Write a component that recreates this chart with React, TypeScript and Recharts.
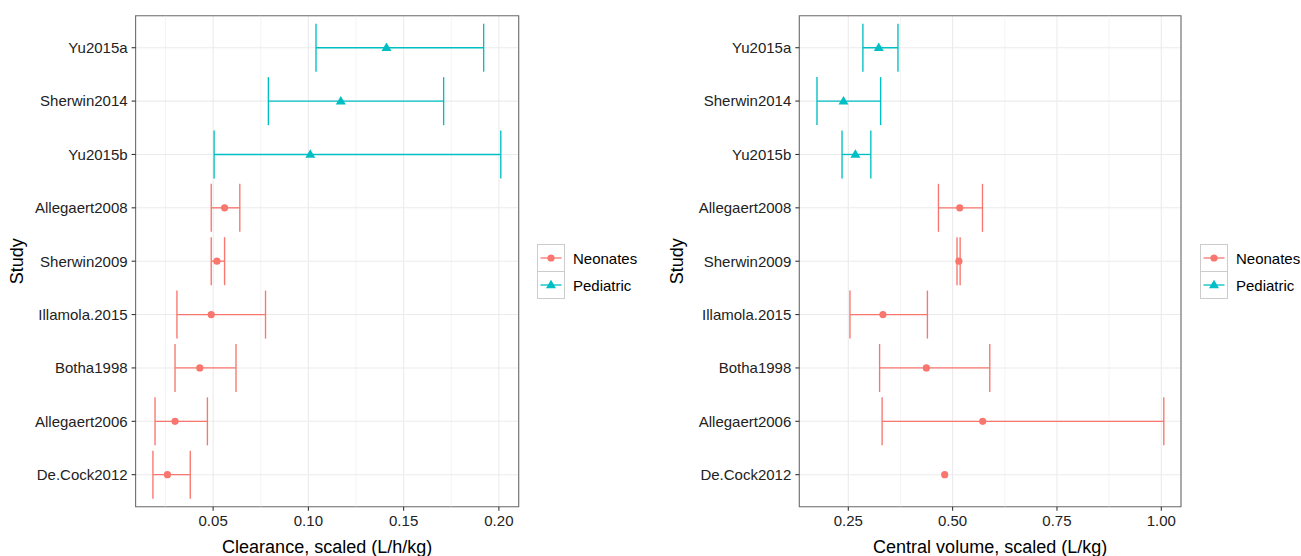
import React from "react";
import {
  CartesianGrid,
  ErrorBar,
  Label,
  Legend,
  ReferenceArea,
  ReferenceLine,
  Scatter,
  ScatterChart,
  XAxis,
  YAxis,
} from "recharts";

// studies listed top to bottom, as in the figure
const studies = [
  "Yu2015a",
  "Sherwin2014",
  "Yu2015b",
  "Allegaert2008",
  "Sherwin2009",
  "Illamola.2015",
  "Botha1998",
  "Allegaert2006",
  "De.Cock2012",
];
const groups = [
  "Pediatric",
  "Pediatric",
  "Pediatric",
  "Neonates",
  "Neonates",
  "Neonates",
  "Neonates",
  "Neonates",
  "Neonates",
];

const clearanceEst = [0.141, 0.117, 0.101, 0.056, 0.052, 0.049, 0.043, 0.030, 0.026];
const clearanceLow = [0.104, 0.079, 0.0505, 0.049, 0.049, 0.031, 0.030, 0.0195, 0.0184];
const clearanceHigh = [0.192, 0.171, 0.201, 0.064, 0.056, 0.0775, 0.062, 0.047, 0.038];

const volumeEst = [0.323, 0.2385, 0.267, 0.517, 0.515, 0.333, 0.437, 0.572, 0.481];
const volumeLow = [0.285, 0.175, 0.235, 0.466, 0.5105, 0.254, 0.325, 0.331, null];
const volumeHigh = [0.369, 0.3275, 0.304, 0.5715, 0.518, 0.4396, 0.589, 1.006, null];

const clearanceTicks = [0.05, 0.1, 0.15, 0.2];
const clearanceMinor = [0.025, 0.075, 0.125, 0.175];
const volumeTicks = [0.25, 0.5, 0.75, 1.0];
const volumeMinor = [0.375, 0.625, 0.875];

const groupNames = ["Neonates", "Pediatric"];
const colors: Record<string, string> = { Neonates: "#F8766D", Pediatric: "#00BFC4" };

const FONT = '"Liberation Sans", Arial, Helvetica, sans-serif';
const N = studies.length;

function buildRows(est: number[], low: (number | null)[], high: (number | null)[]) {
  return studies.map((study, i) => ({
    study,
    group: groups[i],
    pos: N - i,
    est: est[i],
    err: low[i] == null || high[i] == null ? null : [est[i] - (low[i] as number), (high[i] as number) - est[i]],
  }));
}

function Marker({ group, cx, cy }: { group: string; cx: number; cy: number }) {
  const c = colors[group];
  if (group === "Pediatric") {
    return <polygon points={`${cx},${cy - 5.2} ${cx - 5},${cy + 3.3} ${cx + 5},${cy + 3.3}`} fill={c} />;
  }
  return <circle cx={cx} cy={cy} r={3.6} fill={c} />;
}

function LegendKeys() {
  return (
    <svg width={120} height={57} style={{ fontFamily: FONT }}>
      {groupNames.map((g, i) => (
        <g key={g} transform={`translate(0.5, ${0.5 + i * 27})`}>
          <rect x={0} y={0} width={27} height={27} fill="#fff" stroke="#CCCCCC" strokeWidth={1} />
          <line x1={3} x2={24} y1={13.5} y2={13.5} stroke={colors[g]} strokeWidth={1.3} />
          <Marker group={g} cx={13.5} cy={13.5} />
          <text x={35.5} y={19.3} fontSize={15} fill="#000">
            {g}
          </text>
        </g>
      ))}
    </svg>
  );
}

type PanelProps = {
  est: number[];
  low: (number | null)[];
  high: (number | null)[];
  domain: [number, number];
  ticks: number[];
  minor: number[];
  title: string;
  width: number;
  axisWidth: number;
  right: number;
  legendLeft: number;
};

function Panel({ est, low, high, domain, ticks, minor, title, width, axisWidth, right, legendLeft }: PanelProps) {
  const rows = buildRows(est, low, high);
  const tickStyle = { fontSize: 15, fill: "#222", fontFamily: FONT };
  return (
    <ScatterChart width={width} height={556} margin={{ top: 15.7, right, bottom: 0, left: 0 }}>
      <CartesianGrid stroke="#EBEBEB" strokeWidth={1.07} />
      {minor.map((m) => (
        <ReferenceLine key={m} x={m} stroke="#EBEBEB" strokeWidth={0.55} ifOverflow="visible" />
      ))}
      <XAxis
        type="number"
        dataKey="est"
        domain={domain}
        allowDataOverflow
        ticks={ticks}
        tickFormatter={(v) => Number(v).toFixed(2)}
        tick={tickStyle}
        tickSize={4}
        tickMargin={4.6}
        tickLine={{ stroke: "#333", strokeWidth: 1.07 }}
        axisLine={false}
        height={49.3}
      >
        <Label value={title} position="insideBottom" offset={3.5} fontSize={18} fill="#000" fontFamily={FONT} />
      </XAxis>
      <YAxis
        type="number"
        dataKey="pos"
        domain={[0.4, N + 0.6]}
        allowDataOverflow
        ticks={studies.map((_, i) => N - i)}
        tickFormatter={(v) => studies[N - Number(v)]}
        interval={0}
        tick={tickStyle}
        tickSize={4}
        tickMargin={4}
        tickLine={{ stroke: "#333", strokeWidth: 1.07 }}
        axisLine={false}
        width={axisWidth}
      >
        <Label
          content={(p: any) => {
            const vb = p.viewBox || { x: 0, y: 15.7, height: 491 };
            const x = vb.x + 23.5;
            const y = vb.y + vb.height / 2;
            return (
              <text x={x} y={y} transform={`rotate(-90 ${x} ${y})`} textAnchor="middle" fontSize={18} fill="#000" fontFamily={FONT}>
                Study
              </text>
            );
          }}
        />
      </YAxis>
      <ReferenceArea
        x1={domain[0]}
        x2={domain[1]}
        y1={0.4}
        y2={N + 0.6}
        fill="none"
        stroke="#6e6e6e"
        strokeWidth={1.1}
        ifOverflow="visible"
      />
      {groupNames.map((g) => (
        <Scatter
          key={g}
          name={g}
          data={rows.filter((r) => r.group === g)}
          isAnimationActive={false}
          shape={(p: any) => <Marker group={g} cx={p.cx} cy={p.cy} />}
        >
          <ErrorBar
            dataKey="err"
            direction="x"
            width={24}
            stroke={colors[g]}
            strokeWidth={1.35}
            isAnimationActive={false}
          />
        </Scatter>
      ))}
      <Legend
        layout="vertical"
        align="center"
        verticalAlign="middle"
        content={() => <LegendKeys />}
        wrapperStyle={{ left: legendLeft, top: 243.5, width: 120, height: 57 }}
      />
    </ScatterChart>
  );
}

export default function App() {
  return (
    <div style={{ position: "absolute", left: 0, top: 0, width: 1301, height: 556, background: "#fff", fontFamily: FONT, overflow: "hidden" }}>
      <div style={{ position: "absolute", left: 0, top: 0 }}>
        <Panel
          est={clearanceEst}
          low={clearanceLow}
          high={clearanceHigh}
          domain={[0.0093, 0.2104]}
          ticks={clearanceTicks}
          minor={clearanceMinor}
          title="Clearance, scaled (L/h/kg)"
          width={660}
          axisWidth={135.6}
          right={141.3}
          legendLeft={537}
        />
      </div>
      <div style={{ position: "absolute", left: 660, top: 0 }}>
        <Panel
          est={volumeEst}
          low={volumeLow}
          high={volumeHigh}
          domain={[0.1326, 1.0472]}
          ticks={volumeTicks}
          minor={volumeMinor}
          title="Central volume, scaled (L/kg)"
          width={641}
          axisWidth={139.3}
          right={120}
          legendLeft={540.3}
        />
      </div>
    </div>
  );
}
